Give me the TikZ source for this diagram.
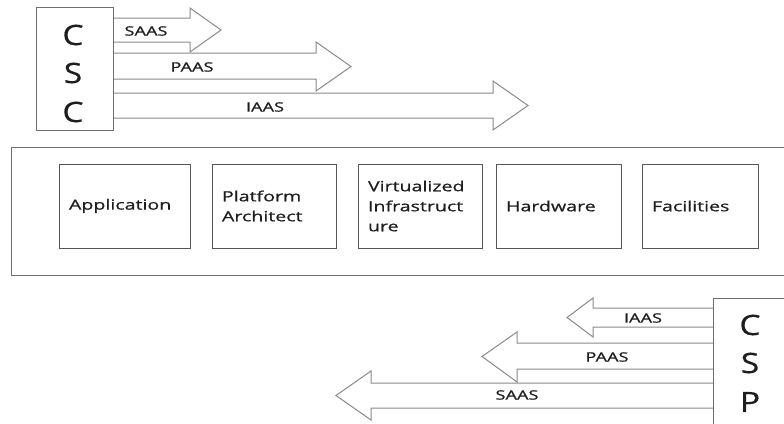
\documentclass[tikz,border=0pt]{standalone}
\usepackage{fontspec}
\setmainfont{Open Sans}[FakeStretch=1.4, FakeBold=0.7]
\newfontfamily\bigletters{Open Sans}[FakeStretch=1.2, FakeBold=0.5]
\definecolor{boxline}{HTML}{6E6E6E}
\definecolor{innerline}{HTML}{555555}
\definecolor{arrline}{HTML}{8A8A8A}
\definecolor{txt}{HTML}{1E1E1E}
\tikzset{
  outerbox/.style={draw=boxline, line width=1pt},
  innerbox/.style={draw=innerline, line width=1pt, minimum height=84pt, inner xsep=10pt, inner ysep=0pt, align=left, font=\fontsize{14}{20}\selectfont, text=txt},
  arrowshape/.style={draw=arrline, line width=1pt, fill=white, line join=miter},
  arrlabel/.style={font=\fontsize{13}{15}\selectfont, text=txt, inner sep=0pt},
  bigletter/.style={font=\bigletters\fontsize{28}{30}\selectfont, text=txt, inner sep=0pt}
}
\begin{document}
\begin{tikzpicture}[x=1pt,y=-1pt]
\useasboundingbox (0,0) rectangle (784,423);
\clip (0,0) rectangle (784,423);
\fill[white] (0,0) rectangle (784,423);

% ---- CSC box and arrows
\node[outerbox, minimum width=77pt, minimum height=123pt, inner sep=0pt] (csc) at (74.5,68.5) {};
\draw[arrowshape] (113,18) -- (190,18) -- (190,8) -- (221,30) -- (190,52) -- (190,42) -- (113,42);
\draw[arrowshape] (113,53) -- (316,53) -- (316,42) -- (351,66.5) -- (316,91) -- (316,79) -- (113,79);
\draw[arrowshape] (113,93) -- (493,93) -- (493,81) -- (528,105.5) -- (493,130) -- (493,118) -- (113,118);
\draw[boxline, line width=1pt] (csc.north east) -- (csc.south east);
\node[arrlabel] (csaas) at (146,31) {SAAS};
\node[arrlabel] (cpaas) at (192,67) {PAAS};
\node[arrlabel] (ciaas) at (265,107) {IAAS};
\node[bigletter] (c1) at (73,35) {C};
\node[bigletter] (c2) at (73,73) {S};
\node[bigletter] (c3) at (73,112) {C};

% ---- middle layer
\draw[outerbox] (11,147) rectangle (800,275);
\node[innerbox, minimum width=131pt, text width=111pt] (app) at (124.5,206) {Application};
\node[innerbox, minimum width=124pt, text width=104pt] (plat) at (274,206) {Platform\\Architect};
\node[innerbox, minimum width=124pt, text width=104pt] (virt) at (420,206) {Virtualized\\Infrastruct\\ure};
\node[innerbox, minimum width=125pt, text width=105pt] (hw) at (558.5,206) {Hardware};
\node[innerbox, minimum width=116pt, text width=96pt] (fac) at (700,206) {Facilities};

% ---- CSP box and arrows
\draw[outerbox] (713,440) -- (713,298) -- (800,298);
\coordinate (csp) at (713,298);
\draw[arrowshape] (713,308) -- (593,308) -- (593,298) -- (567,317.5) -- (593,337) -- (593,327) -- (713,327);
\draw[arrowshape] (713,343) -- (517,343) -- (517,332) -- (482,356.5) -- (517,382) -- (517,369) -- (713,369);
\draw[arrowshape] (713,383) -- (371,383) -- (371,371) -- (336,395.5) -- (371,420) -- (371,408) -- (713,408);
\draw[boxline, line width=1pt] (csp) -- (713,440);
\node[arrlabel] (piaas) at (643,318) {IAAS};
\node[arrlabel] (ppaas) at (607,357) {PAAS};
\node[arrlabel] (psaas) at (517,395) {SAAS};
\node[bigletter] (p1) at (750,325) {C};
\node[bigletter] (p2) at (750,363) {S};
\node[bigletter] (p3) at (750,402) {P};
\end{tikzpicture}
\end{document}
